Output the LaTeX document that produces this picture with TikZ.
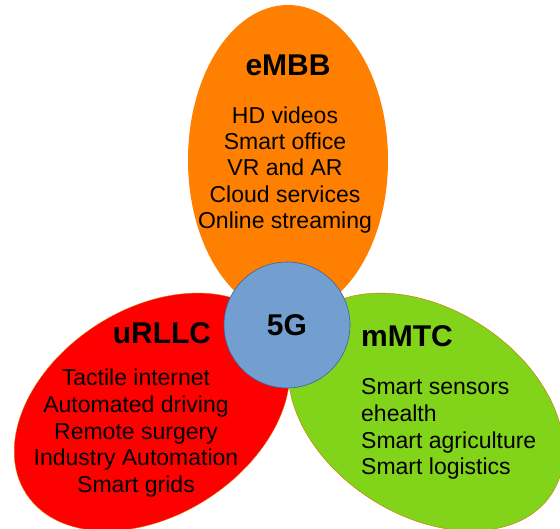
\documentclass[tikz,border=0pt]{standalone}
\usepackage{fontspec}
\setmainfont{Liberation Sans}
\definecolor{embbcol}{HTML}{FF8000}
\definecolor{urllccol}{HTML}{FF0000}
\definecolor{mmtccol}{HTML}{81D41A}
\definecolor{fivegcol}{HTML}{729FCF}
\definecolor{fivegline}{HTML}{3465A4}
\tikzset{
  title/.style={font=\fontsize{30}{34}\selectfont\bfseries, inner sep=0pt, anchor=base},
  item/.style={font=\fontsize{23}{26}\selectfont, inner sep=0pt, anchor=base},
  itemleft/.style={item, anchor=base west},
  petal/.style={draw=embbcol!85!black, line width=0.4pt},
}
\begin{document}
\begin{tikzpicture}[x=1pt,y=-1pt]
\useasboundingbox (0,0) rectangle (560,529);
\clip (0,0) rectangle (560,529);
\fill[white] (0,0) rectangle (560,529);
% ellipses
\fill[embbcol] (288,160) ellipse [x radius=100pt, y radius=155pt];
\path[petal, fill=urllccol, rotate around={33:(152,412)}] (152,412) ellipse [x radius=150pt, y radius=103pt];
\path[petal, fill=mmtccol, rotate around={-33:(426,412)}] (426,412) ellipse [x radius=150pt, y radius=103pt];
\draw[fivegline, line width=0.6pt, fill=fivegcol] (287,325) circle [radius=63pt];
% texts
\node[title] (fiveg) at (287,336) {5G};
\node[title] (embb) at (288,76) {eMBB};
\node[item] (e1) at (285,123.3) {HD videos};
\node[item] (e2) at (285,149.6) {Smart office};
\node[item] (e3) at (285,175.9) {VR and AR};
\node[item] (e4) at (285,202.2) {Cloud services};
\node[item] (e5) at (285,228.5) {Online streaming};
\node[title] (urllc) at (162,344) {uRLLC};
\node[item] (r1) at (136,386) {Tactile internet};
\node[item] (r2) at (136,412.5) {Automated driving};
\node[item] (r3) at (136,439) {Remote surgery};
\node[item] (r4) at (136,465.5) {Industry Automation};
\node[item] (r5) at (136,492) {Smart grids};
\node[title, anchor=base west] (mmtc) at (361,347) {mMTC};
\node[itemleft] (g1) at (361,395) {Smart sensors};
\node[itemleft] (g2) at (361,421.5) {ehealth};
\node[itemleft] (g3) at (361,448) {Smart agriculture};
\node[itemleft] (g4) at (361,474.5) {Smart logistics};
\end{tikzpicture}
\end{document}
